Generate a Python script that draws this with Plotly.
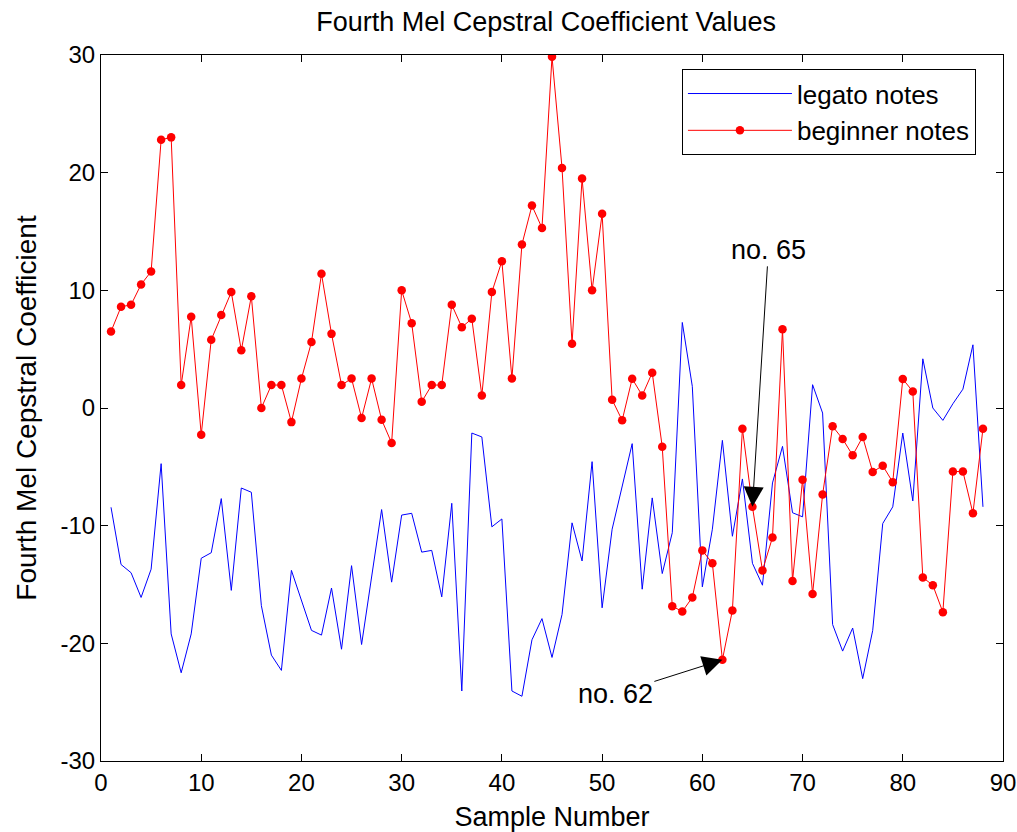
import plotly.graph_objects as go

sample_numbers = list(range(1, 89))

legato_notes = [
    -8.44, -13.3, -14.0, -16.1, -13.7, -4.73, -19.2, -22.5, -19.2, -12.77,
    -12.3, -7.7, -15.5, -6.8, -7.16, -16.8, -21.0, -22.3, -13.8, -16.4,
    -18.9, -19.3, -15.3, -20.5, -13.4, -20.1, -14.4, -8.63, -14.8, -9.1,
    -8.95, -12.25, -12.1, -16.05, -8.1, -24.05, -2.13, -2.46, -10.1, -9.43,
    -24.05, -24.5, -19.7, -17.9, -21.2, -17.55, -9.76, -13.0, -4.56, -16.98,
    -10.3, -6.7, -3.03, -15.4, -7.64, -14.07, -10.6, 7.27, 1.84, -15.2,
    -10.3, -2.75, -10.9, -6.03, -13.2, -15.06, -6.37, -3.26, -8.9, -9.25,
    1.98, -0.43, -18.4, -20.66, -18.7, -23.0, -18.9, -9.82, -8.4, -2.13,
    -7.9, 4.18, 0.0, -1.05, 0.36, 1.6, 5.37, -8.4,
]

beginner_notes = [
    6.5, 8.6, 8.77, 10.5, 11.6, 22.8, 23.0, 1.95, 7.75, -2.27,
    5.8, 7.9, 9.85, 4.9, 9.5, 0.0, 1.95, 1.95, -1.2, 2.5,
    5.6, 11.4, 6.3, 1.95, 2.5, -0.85, 2.5, -1.0, -2.97, 10.0,
    7.2, 0.53, 1.95, 1.95, 8.77, 6.87, 7.58, 1.07, 9.85, 12.48,
    2.5, 13.9, 17.2, 15.3, 29.85, 20.4, 5.46, 19.5, 10.0, 16.5,
    0.7, -1.05, 2.49, 1.07, 3.0, -3.3, -16.84, -17.3, -16.1, -12.1,
    -13.2, -21.4, -17.2, -1.76, -8.4, -13.8, -11.0, 6.7, -14.7, -6.1,
    -15.8, -7.36, -1.56, -2.63, -4.02, -2.46, -5.43, -4.9, -6.3, 2.46,
    1.41, -14.4, -15.06, -17.35, -5.4, -5.4, -8.94, -1.76,
]

x_ticks = [0, 10, 20, 30, 40, 50, 60, 70, 80, 90]
y_ticks = [-30, -20, -10, 0, 10, 20, 30]
y_tick_labels = ["-30", "-20", "-10", "0", "10", "20", "30"]

FONT = "Liberation Sans, Arial, sans-serif"

fig = go.Figure()
fig.add_trace(go.Scatter(
    x=sample_numbers, y=legato_notes, mode="lines", name="legato notes",
    line=dict(color="#0000ff", width=1),
))
fig.add_trace(go.Scatter(
    x=sample_numbers, y=beginner_notes, mode="lines+markers", name="beginner notes",
    line=dict(color="#ff0000", width=1),
    marker=dict(color="#ff0000", size=8.5),
))

ann_font = dict(family=FONT, size=27, color="black")
fig.add_annotation(
    x=62, y=beginner_notes[61], text="no. 62", showarrow=True,
    ax=-107, ay=34, arrowhead=2, arrowsize=4, arrowwidth=1, arrowcolor="black",
    font=ann_font,
)
fig.add_annotation(
    x=65, y=beginner_notes[64], text="no. 65", showarrow=True,
    ax=16, ay=-257, arrowhead=2, arrowsize=4, arrowwidth=1, arrowcolor="black",
    font=ann_font,
)

axis_common = dict(
    showgrid=False, zeroline=False, showline=True, linecolor="black", linewidth=1,
    mirror="ticks", ticks="inside", ticklen=7, tickcolor="black",
    tickfont=dict(family=FONT, size=24, color="black"),
    automargin=False,
)

fig.update_layout(
    width=1017, height=832,
    margin=dict(l=101, r=14, t=55, b=71),
    paper_bgcolor="white", plot_bgcolor="white",
    title=dict(text="Fourth Mel Cepstral Coefficient Values", x=0.537, y=0.9736,
               xref="container", yref="container",
               xanchor="center", yanchor="middle",
               font=dict(family=FONT, size=27, color="black")),
    xaxis=dict(range=[0, 90], tickvals=x_ticks,
               title=dict(text="Sample Number",
                          font=dict(family=FONT, size=27, color="black")),
               **axis_common),
    yaxis=dict(range=[-30, 30], tickvals=y_ticks, ticktext=y_tick_labels,
               title=dict(text="Fourth Mel Cepstral Coefficient",
                          font=dict(family=FONT, size=28, color="black")),
               **axis_common),
    legend=dict(x=0.970, y=0.98, xanchor="right", yanchor="top",
                bgcolor="white", bordercolor="black", borderwidth=1,
                font=dict(family=FONT, size=26, color="black"),
                itemwidth=104, tracegroupgap=0),
    showlegend=True,
)

fig.write_html("out.html", config={"displayModeBar": False},
               post_script="document.body.style.margin='0';")
